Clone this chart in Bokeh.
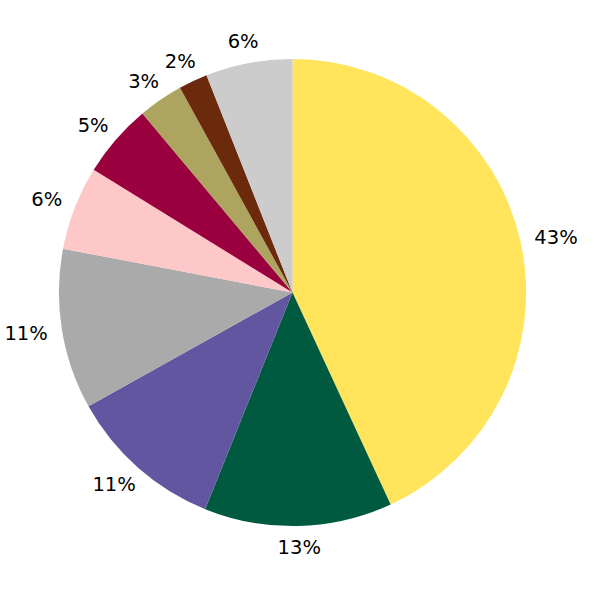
import math
from bokeh.plotting import figure
from bokeh.models import Range1d, ColumnDataSource
from bokeh.core.properties import value
from bokeh.embed import file_html
from bokeh.resources import INLINE

# Data (clockwise from 12 o'clock)
categories = ["A", "B", "C", "D", "E", "F", "G", "H", "I"]
shares = [43.1, 13.0, 10.8, 11.1, 5.8, 5.1, 3.1, 2.0, 6.0]
colors = ["#FFE45C", "#005A40", "#6256A0", "#AAAAAA", "#FFC8C8",
          "#99003D", "#ADA55F", "#6B2A0C", "#CCCCCC"]

SIZE = 584
SCALE = SIZE / 600.0
CX, CY, R = 300, 300, 240
FONT = 20          # in reference units
GAP = 15
TEXT_H = 15

total = sum(shares)
starts, ends, lx, ly, labels = [], [], [], [], []
cum = 0.0
for s in shares:
    f0 = cum / total
    cum += s
    f1 = cum / total
    a0 = math.pi / 2 - 2 * math.pi * f0
    a1 = math.pi / 2 - 2 * math.pi * f1
    starts.append(a0)
    ends.append(a1)
    mid = (a0 + a1) / 2
    lab = f"{round(s / total * 100):d}%"
    labels.append(lab)
    ndig = len(lab) - 1
    w = FONT * (0.636 * ndig + 0.95)
    lx.append(CX + math.cos(mid) * (R + GAP + w / 2))
    ly.append(CY + math.sin(mid) * (R + GAP + TEXT_H / 2))

src = ColumnDataSource(dict(start=starts, end=ends, color=colors, cat=categories))
lsrc = ColumnDataSource(dict(x=lx, y=ly, text=labels))

p = figure(width=SIZE, height=SIZE, output_backend="svg", toolbar_location=None,
           x_range=Range1d(0, 600), y_range=Range1d(0, 600),
           x_axis_type=None, y_axis_type=None, min_border=0,
           background_fill_color="white", border_fill_color="white")
p.outline_line_color = None
p.grid.visible = False

p.wedge(x=CX, y=CY, radius=R, start_angle="start", end_angle="end",
        direction="clock", fill_color="color", line_color=None, source=src)

p.text(x="x", y="y", text="text", source=lsrc, text_align="center",
       text_baseline="middle", text_font=value("DejaVu Sans"),
       text_font_size=f"{FONT * SCALE:.1f}px", text_color="black")

open("out.html", "w").write(file_html(p, INLINE))
